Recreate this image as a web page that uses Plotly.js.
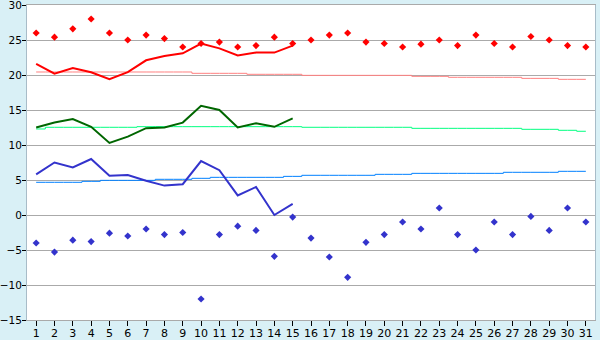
<!DOCTYPE html>
<html>
<head>
<meta charset="utf-8">
<script src="https://cdn.plot.ly/plotly-3.0.1.min.js"></script>
<style>
html,body{margin:0;padding:0;background:#D9F0F6;}
#chart{width:600px;height:340px;}
</style>
</head>
<body>
<div id="chart"></div>
<script>
const days = Array.from({length: 31}, (_, i) => i + 1);
const days15 = days.slice(0, 15);

// Daily max (line, days 1-15) and record max (markers)
const maxTemp = [21.6, 20.2, 21.0, 20.4, 19.4, 20.4, 22.1, 22.7, 23.1, 24.5, 23.8, 22.8, 23.2, 23.2, 24.2];
const recordMax = [26.0, 25.4, 26.6, 28.0, 26.0, 25.0, 25.7, 25.2, 24.0, 24.5, 24.7, 24.0, 24.2, 25.4, 24.5,
                   25.0, 25.7, 26.0, 24.7, 24.5, 24.0, 24.4, 25.0, 24.2, 25.7, 24.5, 24.0, 25.5, 25.0, 24.2, 24.0];
// Daily mean
const meanTemp = [12.5, 13.2, 13.7, 12.6, 10.3, 11.2, 12.4, 12.5, 13.2, 15.6, 15.0, 12.5, 13.1, 12.6, 13.8];
// Daily min (line) and record min (markers)
const minTemp = [5.8, 7.5, 6.8, 8.0, 5.6, 5.7, 4.9, 4.2, 4.4, 7.7, 6.4, 2.8, 4.0, 0.0, 1.6];
const recordMin = [-4.0, -5.3, -3.6, -3.8, -2.6, -3.0, -2.0, -2.8, -2.5, -12.0, -2.8, -1.6, -2.2, -5.9, -0.3,
                   -3.3, -6.0, -8.9, -3.9, -2.8, -1.0, -2.0, 1.0, -2.8, -5.0, -1.0, -2.8, -0.2, -2.2, 1.0, -1.0];
// Normals
const normalMax = [20.43, 20.43, 20.43, 20.43, 20.43, 20.43, 20.43, 20.43, 20.43, 20.24, 20.24, 20.24, 20.1, 20.1, 20.1,
                   19.95, 19.95, 19.95, 19.95, 19.95, 19.95, 19.81, 19.81, 19.67, 19.67, 19.67, 19.67, 19.52, 19.52, 19.38, 19.38];
const normalMean = [12.29, 12.53, 12.53, 12.53, 12.53, 12.53, 12.62, 12.62, 12.62, 12.62, 12.62, 12.62, 12.62, 12.62, 12.62,
                    12.53, 12.53, 12.53, 12.53, 12.53, 12.53, 12.38, 12.38, 12.38, 12.38, 12.38, 12.38, 12.24, 12.24, 12.1, 11.96];
const normalMin = [4.67, 4.67, 4.67, 4.81, 4.95, 4.95, 4.95, 5.1, 5.1, 5.24, 5.38, 5.38, 5.38, 5.38, 5.52,
                   5.67, 5.67, 5.67, 5.67, 5.81, 5.81, 5.95, 5.95, 5.95, 5.95, 5.95, 6.1, 6.1, 6.1, 6.24, 6.24];
const yTicks = [-15, -10, -5, 0, 5, 10, 15, 20, 25, 30];

const traces = [
  {x: days, y: normalMax, mode: 'lines', line: {color: '#FF8080', width: 1, shape: 'hvh'}},
  {x: days, y: normalMean, mode: 'lines', line: {color: '#00FF80', width: 1, shape: 'hvh'}},
  {x: days, y: normalMin, mode: 'lines', line: {color: '#0080FF', width: 1, shape: 'hvh'}},
  {x: days15, y: maxTemp, mode: 'lines', line: {color: '#FF0000', width: 2}},
  {x: days15, y: meanTemp, mode: 'lines', line: {color: '#006600', width: 2}},
  {x: days15, y: minTemp, mode: 'lines', line: {color: '#3333CC', width: 2}},
  {x: days, y: recordMax, mode: 'markers', marker: {symbol: 'diamond', size: 5.5, color: '#FF0000'}},
  {x: days, y: recordMin, mode: 'markers', marker: {symbol: 'diamond', size: 5.5, color: '#3333CC'}}
];

const layout = {
  width: 600, height: 340,
  margin: {l: 27, r: 5, t: 5, b: 20, pad: 0},
  paper_bgcolor: '#D9F0F6',
  plot_bgcolor: '#FFFFFF',
  showlegend: false,
  hovermode: false,
  font: {family: 'DejaVu Sans, Verdana, sans-serif', size: 11, color: '#000000'},
  xaxis: {
    range: [0.5, 31.5], tickvals: days, ticktext: days.map(String),
    showgrid: false, zeroline: false,
    ticks: 'outside', ticklen: 5, tickcolor: '#000000', tickwidth: 1,
    ticklabelstandoff: -2, ticklabeloverflow: 'allow',
    showline: true, linecolor: '#AAAAAA', linewidth: 1, mirror: true,
    fixedrange: true
  },
  yaxis: {
    range: [-15, 30], tickvals: yTicks, ticktext: yTicks.map(v => v < 0 ? '\u2212' + Math.abs(v) : String(v)),
    tickfont: {size: 10.5},
    ticklabelstandoff: -2, ticklabeloverflow: 'allow',
    showgrid: true, gridcolor: '#AAAAAA', gridwidth: 1, zeroline: false,
    ticks: 'outside', ticklen: 4, tickcolor: '#000000', tickwidth: 1,
    showline: true, linecolor: '#A8BCC8', linewidth: 1, mirror: true,
    fixedrange: true
  }
};

Plotly.newPlot('chart', traces, layout, {staticPlot: true, displayModeBar: false});
</script>
</body>
</html>
